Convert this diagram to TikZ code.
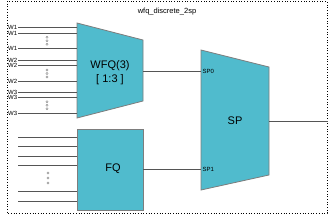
\documentclass[tikz,border=0pt]{standalone}
\usepackage{fontspec}
\setmainfont{Liberation Sans}

\definecolor{qfill}{RGB}{80,187,205}
\definecolor{qedge}{RGB}{125,125,125}
\definecolor{wirecol}{RGB}{85,85,85}

\newcommand*{\inx}{18}
\newcommand*{\qxl}{77}
\newcommand*{\qxr}{143}
\newcommand*{\spxl}{201}
\newcommand*{\spxr}{269}

\begin{document}
\begin{tikzpicture}
[
	x=1pt, y=-1pt,
	block/.style={draw=qedge,fill=qfill,line width=0.8pt},
	wire/.style={draw=wirecol,line width=0.8pt},
	port/.style={font=\fontsize{6}{6}\selectfont,inner sep=0.6pt},
	big/.style={font=\fontsize{11}{14}\selectfont},
	more/.style={circle,draw=gray,line width=0.4pt,inner sep=0pt,minimum size=2.2pt}
]
	\useasboundingbox (0,0) rectangle (328,214);

	% frame
	\draw[dotted,line width=0.7pt] (7,1) rectangle (327,213);
	\node[font=\fontsize{7.5}{9}\selectfont] (title) at (167,11.5) {wfq\_discrete\_2sp};

	% schedulers
	\draw[block] (\qxl,23) -- (\qxr,40) -- (\qxr,101) -- (\qxl,118) -- cycle;
	\draw[block] (\qxl,129) rectangle (\qxr,210);
	\draw[block] (\spxl,50) -- (\spxr,67) -- (\spxr,175) -- (\spxl,190) -- cycle;

	\node[big,align=center] (wfq) at (110,73) {WFQ(3)\\{[} 1:3 ]};
	\node[big] (fq) at (113,169) {FQ};
	\node[big] (sp) at (235,121) {SP};

	% weighted inputs
	\foreach \y/\w [count=\i] in {27.5/W1,33/W1,48.5/W1,60.5/W2,65.5/W2,81.5/W2,92/W3,97/W3,113.5/W3} {
		\node[port,anchor=east] (w\i) at (\inx,\y) {\w};
		\coordinate (wq\i) at (\qxl,\y);
		\draw[wire] (w\i.east) -- (wq\i);
	}
	\foreach \y [count=\i] in {40.75,73.5,105.25} {
		\foreach \d [count=\j] in {-3.5,0,3.5} {
			\node[more] (wd\i\j) at (47,\y+\d) {};
		}
	}

	% fair inputs
	\foreach \y [count=\i] in {137,146,156,165,191,201} {
		\coordinate (fin\i) at (\inx,\y);
		\coordinate (fqin\i) at (\qxl,\y);
		\draw[wire] (fin\i) -- (fqin\i);
	}
	\foreach \d [count=\j] in {-5,0,5} {
		\node[more] (fd\j) at (48,178+\d) {};
	}

	% outputs
	\coordinate (wfqout) at (\qxr,71);
	\node[port,anchor=west,inner sep=1.5pt] (sp0) at (\spxl,71) {SP0};
	\draw[wire] (wfqout) -- (sp0.west);
	\coordinate (fqout) at (\qxr,169);
	\node[port,anchor=west,inner sep=1.5pt] (sp1) at (\spxl,169) {SP1};
	\draw[wire] (fqout) -- (sp1.west);
	\coordinate (spout) at (\spxr,121);
	\coordinate (rim) at (328,121);
	\draw[wire] (spout) -- (rim);

\end{tikzpicture}
\end{document}
